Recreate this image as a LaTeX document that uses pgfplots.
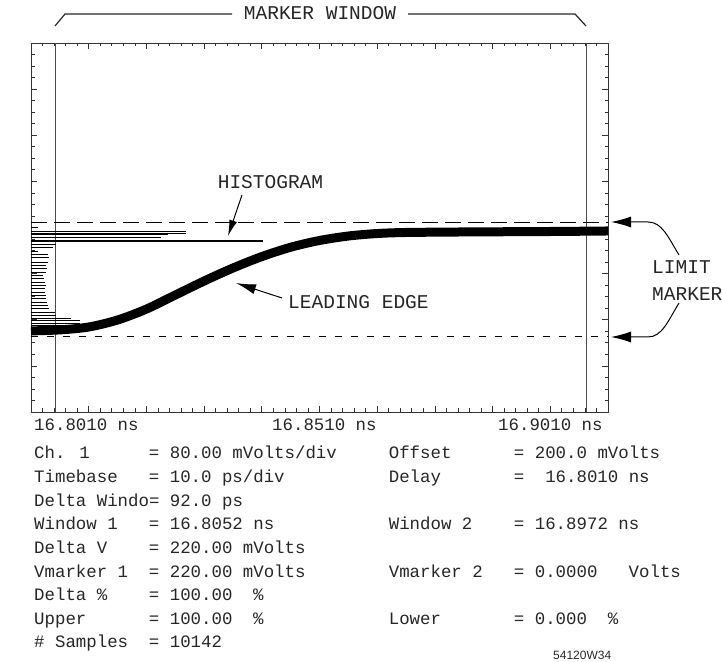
\documentclass[border=0pt]{standalone}
\usepackage{pgfplots}
\pgfplotsset{compat=1.18}
\usepackage{fontspec}
\usetikzlibrary{arrows.meta}
\newfontfamily\mono{Liberation Mono}
\newfontfamily\sans{Liberation Sans}
\newcommand\body{\mono\fontsize{17.4}{20}\selectfont}
\newcommand\ann{\mono\fontsize{19.5}{22}\selectfont}
\newcommand\T[3]{\node[anchor=base west,inner sep=0pt,font=\body,text=black!85] at ({34pt+#1*10.43pt},#2pt) {#3};}
\begin{document}
\begin{tikzpicture}
\path[use as bounding box] (0,0) rectangle (722pt,661pt);
\begin{axis}[
  at={(31pt,249pt)}, anchor=south west,
  width=577pt, height=369pt, scale only axis,
  xmin=0, xmax=100, ymin=-145, ymax=565,
  xtick={0,10,...,100}, minor x tick num=4,
  ytick={-145,-56.25,32.5,121.25,210,298.75,387.5,476.25,565}, minor y tick num=3,
  xticklabels={}, yticklabels={},
  tick align=inside, tick pos=both,
  major tick length=6pt, minor tick length=3.5pt,
  axis line style={line width=0.9pt, black!80},
  every tick/.style={black!80, line width=0.7pt},
  clip=true,
]
% marker window lines (Window 1 / Window 2, ps after 16.8010 ns)
\addplot[black!70, line width=0.9pt] coordinates {(4.2,-145) (4.2,565)};
\addplot[black!70, line width=0.9pt] coordinates {(96.2,-145) (96.2,565)};
% limit markers
\addplot[black, line width=1.2pt, dash pattern=on 16pt off 7pt] coordinates {(0,220) (100,220)};
\addplot[black, line width=1.1pt, dash pattern=on 7pt off 9pt] coordinates {(0,0) (100,0)};
% histogram
\addplot[xcomb, black, line width=0.9pt, mark=none] coordinates {
(1.2,211.0) (26.9,202.7) (26.9,199.4) (23.7,196.1) (22.5,191.7)
(4.3,176.9) (3.8,172.5) (1.2,164.8) (2.9,159.0) (3.1,153.2) (2.9,143.6)
(2.6,137.8) (2.8,130.7) (2.6,124.4) (2.1,118.6) (2.3,111.5) (2.4,105.1)
(2.6,99.3) (2.4,92.2) (2.4,85.9) (2.6,80.1) (2.6,73.0) (2.8,66.6)
(2.9,60.9) (3.1,55.1) (4.2,47.4) (4.3,41.6) (6.9,35.8) (8.5,32.0)
(8.5,26.2) (8.1,22.4) (11.1,16.6) (5.2,12.8) (0.7,7.0)
};
\addplot[xcomb, black, line width=2.6pt, mark=none] coordinates {(40.2,184.0)};
% leading edge (waveform band)
\addplot[smooth, black, line width=9pt, mark=none] coordinates {
(0,11) (5,13) (10,18.5) (15,32) (20,53) (25,80) (30,107) (35,132)
(40,154) (45,172) (50,185) (55,193.6) (60,198.4) (65,200.4)
(75,201.4) (90,202.3) (100,203.3)
};
\end{axis}
% x tick labels
\node[anchor=base west,inner sep=0pt,font=\body,text=black!85] at (34pt,230pt) {16.8010 ns};
\node[anchor=base west,inner sep=0pt,font=\body,text=black!85] at (272pt,230pt) {16.8510 ns};
\node[anchor=base west,inner sep=0pt,font=\body,text=black!85] at (498pt,230pt) {16.9010 ns};
% marker window bracket
\draw[black!85, line width=1.2pt] (55pt,635pt) -- (65pt,647pt) -- (232pt,647pt);
\draw[black!85, line width=1.2pt] (408pt,647pt) -- (575pt,647pt) -- (586pt,635pt);
\node[anchor=base,inner sep=0pt,font=\ann,text=black!85] at (320pt,641pt) {MARKER WINDOW};
% annotations
\node[anchor=base,inner sep=0pt,font=\ann,text=black!85] at (270.5pt,472pt) {HISTOGRAM};
\draw[black, line width=1pt, -{Latex[length=16pt,width=8pt]}] (242pt,466pt) -- (228pt,425pt);
\node[anchor=base west,inner sep=0pt,font=\ann,text=black!85] at (288pt,352pt) {LEADING EDGE};
\draw[black, line width=1pt, -{Latex[length=20pt,width=10pt]}] (282pt,363pt) -- (236pt,378pt);
\node[anchor=base west,inner sep=0pt,font=\ann,text=black!85] at (652pt,387pt) {LIMIT};
\node[anchor=base west,inner sep=0pt,font=\ann,text=black!85] at (652pt,360pt) {MARKER};
\draw[black, line width=1pt, -{Latex[length=20pt,width=11pt]}] (679pt,406pt) .. controls (668pt,424pt) and (662pt,439pt) .. (648pt,439pt) -- (611pt,439pt);
\draw[black, line width=1pt, -{Latex[length=20pt,width=11pt]}] (679pt,358pt) .. controls (668pt,340pt) and (662pt,324pt) .. (648pt,324pt) -- (611pt,324pt);
% readout
\T{0}{202}{Ch. 1} \T{11}{202}{= 80.00 mVolts/div} \T{34}{202}{Offset} \T{46}{202}{= 200.0 mVolts}
\T{0}{178.4}{Timebase} \T{11}{178.4}{= 10.0 ps/div} \T{34}{178.4}{Delay} \T{46}{178.4}{=} \T{49}{178.4}{16.8010 ns}
\T{0}{154.8}{Delta Windo= 92.0 ps}
\T{0}{131.2}{Window 1} \T{11}{131.2}{= 16.8052 ns} \T{34}{131.2}{Window 2} \T{46}{131.2}{= 16.8972 ns}
\T{0}{107.6}{Delta V} \T{11}{107.6}{= 220.00 mVolts}
\T{0}{84}{Vmarker 1} \T{11}{84}{= 220.00 mVolts} \T{34}{84}{Vmarker 2} \T{46}{84}{= 0.0000} \T{57}{84}{Volts}
\T{0}{60.4}{Delta \%} \T{11}{60.4}{= 100.00} \T{21}{60.4}{\%}
\T{0}{36.8}{Upper} \T{11}{36.8}{= 100.00} \T{21}{36.8}{\%} \T{34}{36.8}{Lower} \T{46}{36.8}{= 0.000} \T{55}{36.8}{\%}
\T{0}{13.2}{\# Samples} \T{11}{13.2}{= 10142}
\node[anchor=base west,inner sep=0pt,font=\sans\fontsize{12}{14}\selectfont,text=black!85] at (553pt,2pt) {54120W34};
\end{tikzpicture}
\end{document}
